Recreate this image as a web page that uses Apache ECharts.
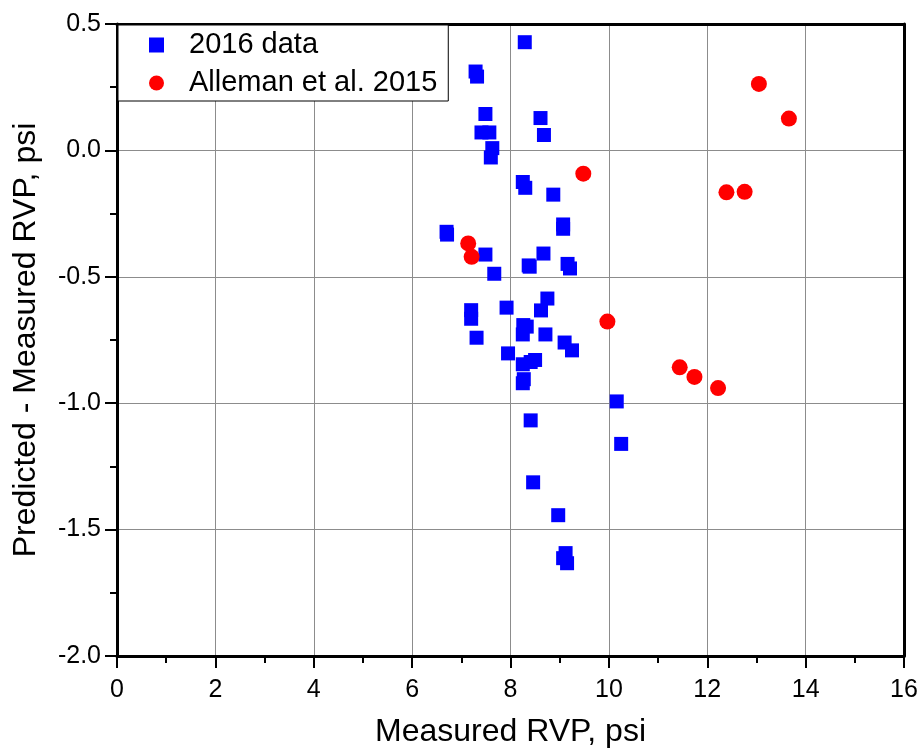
<!DOCTYPE html>
<html>
<head>
<meta charset="utf-8">
<script src="https://cdn.jsdelivr.net/npm/echarts@6/dist/echarts.min.js"></script>
<style>
  html, body { margin: 0; padding: 0; background: #fff; }
  #chart { width: 921px; height: 753px; }
</style>
</head>
<body>
<div id="chart"></div>
<script>
// 2016 data (measured RVP, predicted - measured)
var data2016X = [8.29, 7.29, 7.32, 7.49, 8.61, 8.68, 7.41, 7.57, 7.63, 7.60,
  8.25, 8.30, 8.87, 9.07, 9.07, 6.70, 6.71, 7.49, 8.67, 8.37,
  8.39, 9.16, 9.21, 7.67, 8.75, 7.20, 7.20, 7.92, 8.62, 8.26,
  8.33, 8.25, 8.71, 7.31, 9.10, 9.25, 7.95, 8.50, 8.41, 8.25,
  8.27, 8.25, 10.16, 8.41, 10.25, 8.46, 8.97, 9.12, 9.07, 9.15];
var data2016Y = [0.428, 0.312, 0.292, 0.144, 0.128, 0.061, 0.071, 0.071, 0.009, -0.028,
  -0.125, -0.148, -0.175, -0.293, -0.310, -0.322, -0.333, -0.412, -0.408, -0.455,
  -0.460, -0.449, -0.467, -0.488, -0.586, -0.632, -0.666, -0.622, -0.633, -0.691,
  -0.697, -0.728, -0.728, -0.741, -0.760, -0.791, -0.803, -0.829, -0.837, -0.846,
  -0.905, -0.921, -0.993, -1.068, -1.161, -1.313, -1.443, -1.593, -1.613, -1.633];

// Alleman et al. 2015
var allemanX = [13.05, 13.66, 9.48, 12.39, 12.76, 9.97, 11.44, 11.74, 12.22, 7.14, 7.21];
var allemanY = [0.263, 0.126, -0.092, -0.166, -0.164, -0.677, -0.858, -0.896, -0.940, -0.368, -0.421];

var seriesNames = ['2016 data', 'Alleman et al. 2015'];

function pairs(xs, ys) {
  return xs.map(function (x, i) { return [x, ys[i]]; });
}

var font = 'Liberation Sans, Arial, sans-serif';
var myChart = echarts.init(document.getElementById('chart'));

var tickStyle = { color: '#000', width: 2 };
// 上、右边框用空轴画
var frameAxis = {
  type: 'value',
  axisLine: { show: true, onZero: false, lineStyle: { color: '#000', width: 3 } },
  axisTick: { show: false },
  axisLabel: { show: false },
  splitLine: { show: false }
};

var option = {
  backgroundColor: '#fff',
  animation: false,
  grid: { left: 117, right: 17, top: 24, bottom: 96 },
  legend: {
    orient: 'vertical',
    left: 118, top: 25,
    padding: [4, 11, 2, 31],
    itemGap: 6,
    itemWidth: 15, itemHeight: 15,
    backgroundColor: '#fff',
    borderColor: '#000', borderWidth: 1,
    textStyle: { fontFamily: font, fontSize: 29, color: '#000', lineHeight: 32, padding: [0, 0, 0, 20] },
    data: seriesNames
  },
  xAxis: [{
    type: 'value',
    min: 0, max: 16, interval: 2,
    name: 'Measured RVP, psi',
    nameLocation: 'middle',
    nameGap: 60,
    nameTextStyle: { fontFamily: font, fontSize: 32, color: '#000' },
    axisLine: { onZero: false, lineStyle: { color: '#000', width: 3 } },
    axisTick: { length: 12, lineStyle: tickStyle },
    minorTick: { show: true, splitNumber: 2, length: 7, lineStyle: tickStyle },
    axisLabel: { fontFamily: font, fontSize: 25, color: '#000', margin: 22 },
    splitLine: { lineStyle: { color: '#8c8c8c', width: 1 } }
  }, Object.assign({ position: 'top', min: 0, max: 16 }, frameAxis)],
  yAxis: [{
    type: 'value',
    min: -2, max: 0.5, interval: 0.5,
    name: 'Predicted - Measured RVP, psi',
    nameLocation: 'middle',
    nameGap: 75,
    nameTextStyle: { fontFamily: font, fontSize: 32, color: '#000' },
    axisLine: { onZero: false, lineStyle: { color: '#000', width: 3 } },
    axisTick: { length: 12, lineStyle: tickStyle },
    minorTick: { show: true, splitNumber: 2, length: 7, lineStyle: tickStyle },
    axisLabel: {
      fontFamily: font, fontSize: 25, color: '#000', margin: 16,
      formatter: function (v) { return v.toFixed(1); }
    },
    splitLine: { lineStyle: { color: '#8c8c8c', width: 1 } }
  }, Object.assign({ position: 'right', min: -2, max: 0.5 }, frameAxis)],
  series: [
    {
      name: seriesNames[0],
      type: 'scatter',
      symbol: 'rect',
      symbolSize: 14,
      itemStyle: { color: '#0000ff', opacity: 1 },
      data: pairs(data2016X, data2016Y)
    },
    {
      name: seriesNames[1],
      type: 'scatter',
      symbol: 'circle',
      symbolSize: 16,
      itemStyle: { color: '#ff0000', opacity: 1 },
      data: pairs(allemanX, allemanY)
    }
  ]
};

myChart.setOption(option);
</script>
</body>
</html>
